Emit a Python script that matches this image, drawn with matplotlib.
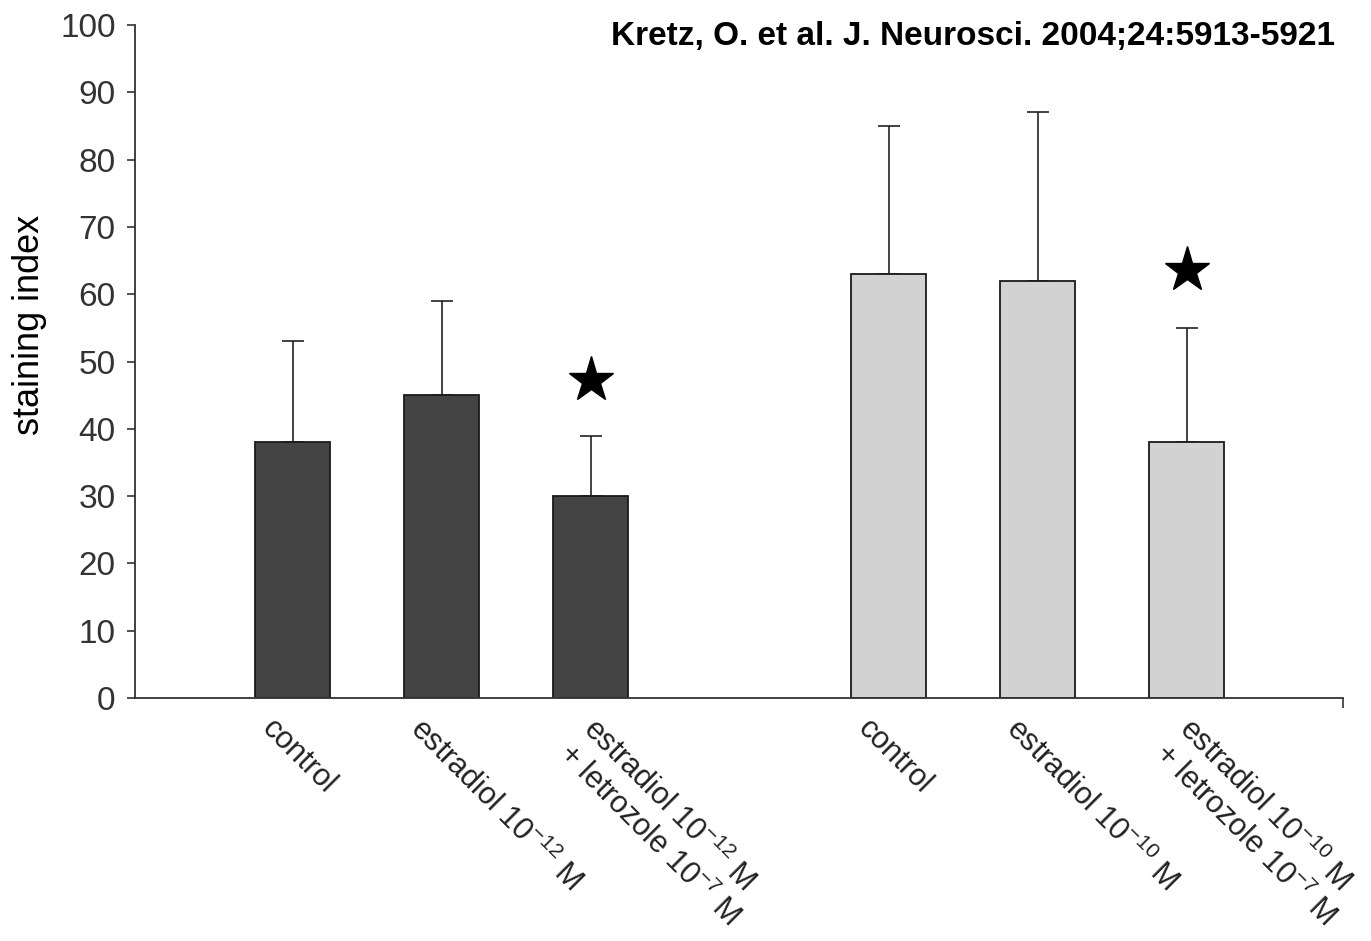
import matplotlib
matplotlib.use("Agg")
import matplotlib.pyplot as plt
import numpy as np

plt.rcParams['font.family'] = ['Liberation Sans', 'DejaVu Sans']
plt.rcParams['mathtext.fontset'] = 'custom'
plt.rcParams['mathtext.rm'] = 'Liberation Sans'
plt.rcParams['mathtext.it'] = 'Liberation Sans:italic'

# bar data: two dose groups of three treatments each
positions = [0, 1, 2, 4, 5, 6]
labels = ['control',
          'estradiol 10$^{-12}$ M',
          'estradiol 10$^{-12}$ M\n+ letrozole 10$^{-7}$ M',
          'control',
          'estradiol 10$^{-10}$ M',
          'estradiol 10$^{-10}$ M\n+ letrozole 10$^{-7}$ M']
means = [38, 45, 30, 63, 62, 38]
upper_err = [15, 14, 9, 22, 25, 17]
bar_colors = ['#444444'] * 3 + ['#d2d2d2'] * 3

# significance stars
star_x = [2, 6]
star_y = [47.3, 63.6]

fig = plt.figure(figsize=(13.71, 9.41), dpi=100)
ax = fig.add_axes([135/1371, 1-698/941, (1343-135)/1371, (698-25)/941])

ax.bar(positions, means, width=0.5, color=bar_colors, edgecolor='#1a1a1a',
       linewidth=1.3, zorder=2)
ax.errorbar(positions, means, yerr=[np.zeros(len(means)), upper_err],
            fmt='none', ecolor='#222222', elinewidth=1.2, capsize=8,
            capthick=1.2, zorder=1)
ax.plot(star_x, star_y, linestyle='none', marker='*', markersize=34,
        color='black')

ax.set_xlim(-1.057, 7.05)
ax.set_ylim(0, 100)
ax.set_yticks(np.arange(0, 101, 10))
ax.tick_params(axis='y', direction='out', length=6, width=1.2,
               labelsize=24, labelcolor='#333333', color='#333333', pad=8)
ax.set_xticks([])
ax.set_xticks([7.05], minor=True)
ax.tick_params(axis='x', which='minor', direction='out', length=7,
               width=1.2, color='#333333', labelbottom=False)

for side in ['top', 'right']:
    ax.spines[side].set_visible(False)
for side in ['left', 'bottom']:
    ax.spines[side].set_color('#333333')
    ax.spines[side].set_linewidth(1.3)

# rotated category labels under the bars
for x, lab in zip(positions, labels):
    dx = 6 if '\n' in lab else -11.5
    ax.annotate(lab, xy=(x, 0), xycoords='data', xytext=(dx, -11),
                textcoords='offset points', rotation=-45,
                rotation_mode='anchor', ha='left', va='top',
                fontsize=22, color='#222222', annotation_clip=False)

fig.text(30/1371, 1-325/941, 'staining index', rotation=90, fontsize=26,
         ha='center', va='center', color='black')
fig.text(1335/1371, 1-37/941, 'Kretz, O. et al. J. Neurosci. 2004;24:5913-5921',
         fontsize=24, fontweight='bold', ha='right', va='center')

fig.savefig('out.png', dpi=100)
